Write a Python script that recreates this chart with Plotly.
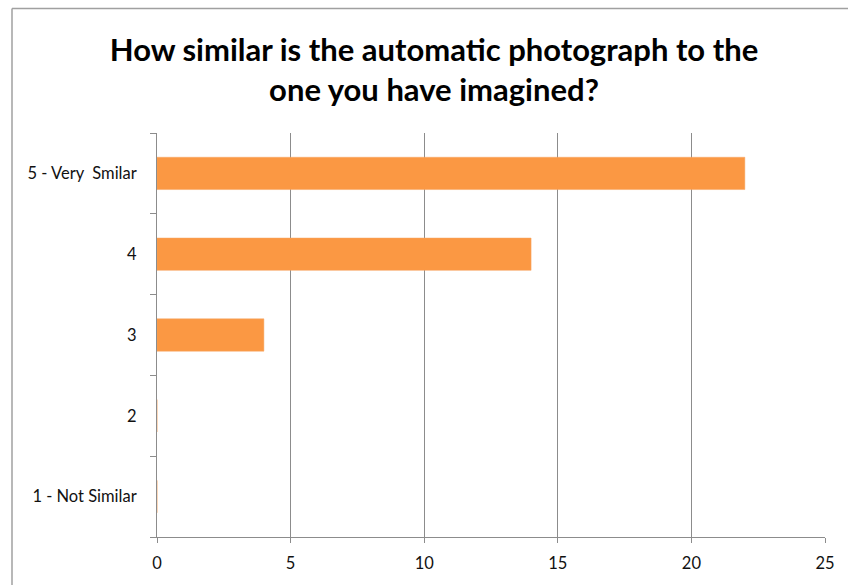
import plotly.graph_objects as go

categories = ["1 - Not Similar", "2", "3", "4", "5 - Very\u00a0 Smilar"]
values = [0, 0, 4, 14, 22]
x_ticks = [0, 5, 10, 15, 20, 25]
title_text = "How similar is the automatic photograph to the<br>one you have imagined?"

W, H = 848, 585
L, R, T, B = 157, 23, 133, 43
pw = W - L - R
ph = H - T - B
top_y = 1 + (T - 7) / ph
left_x = (12 - L) / pw

fig = go.Figure(go.Bar(
    x=values, y=categories, orientation="h",
    marker=dict(color="#FB9843", line=dict(color="#F7A463", width=0.5)),
    width=0.4,
))

grid = "#8C8C8C"
fig.update_layout(
    width=W, height=H,
    margin=dict(l=L, r=R, t=T, b=B),
    paper_bgcolor="white", plot_bgcolor="white",
    showlegend=False,
    font=dict(family="Lato, Carlito, sans-serif", size=16.5, color="#111111"),
    title=dict(text=title_text, x=434 / W, xanchor="center", xref="container",
               y=1 - 61 / H, yanchor="middle", yref="container",
               font=dict(family="Lato, sans-serif", size=31, color="black", weight="bold")),
    xaxis=dict(range=[0, 25], tickvals=x_ticks, showgrid=True, gridcolor=grid, gridwidth=1,
               showline=True, linecolor=grid, linewidth=1, ticks="outside", ticklen=5,
               tickcolor=grid, zeroline=False, ticklabelstandoff=6, fixedrange=True),
    yaxis=dict(type="category", categoryorder="array", categoryarray=categories,
               showgrid=False, showline=True, linecolor=grid, linewidth=1,
               ticks="outside", tickson="boundaries", ticklen=6, tickcolor=grid,
               ticklabelstandoff=16, range=[-0.5, 4.5], fixedrange=True),
    shapes=[
        dict(type="line", xref="paper", yref="paper",
             x0=left_x, x1=left_x, y0=top_y, y1=-0.5,
             line=dict(color="#A0A0A0", width=1.5)),
        dict(type="line", xref="paper", yref="paper",
             x0=left_x, x1=1.5, y0=top_y, y1=top_y,
             line=dict(color="#A0A0A0", width=1.5)),
    ],
)

fig.write_html("out.html")
